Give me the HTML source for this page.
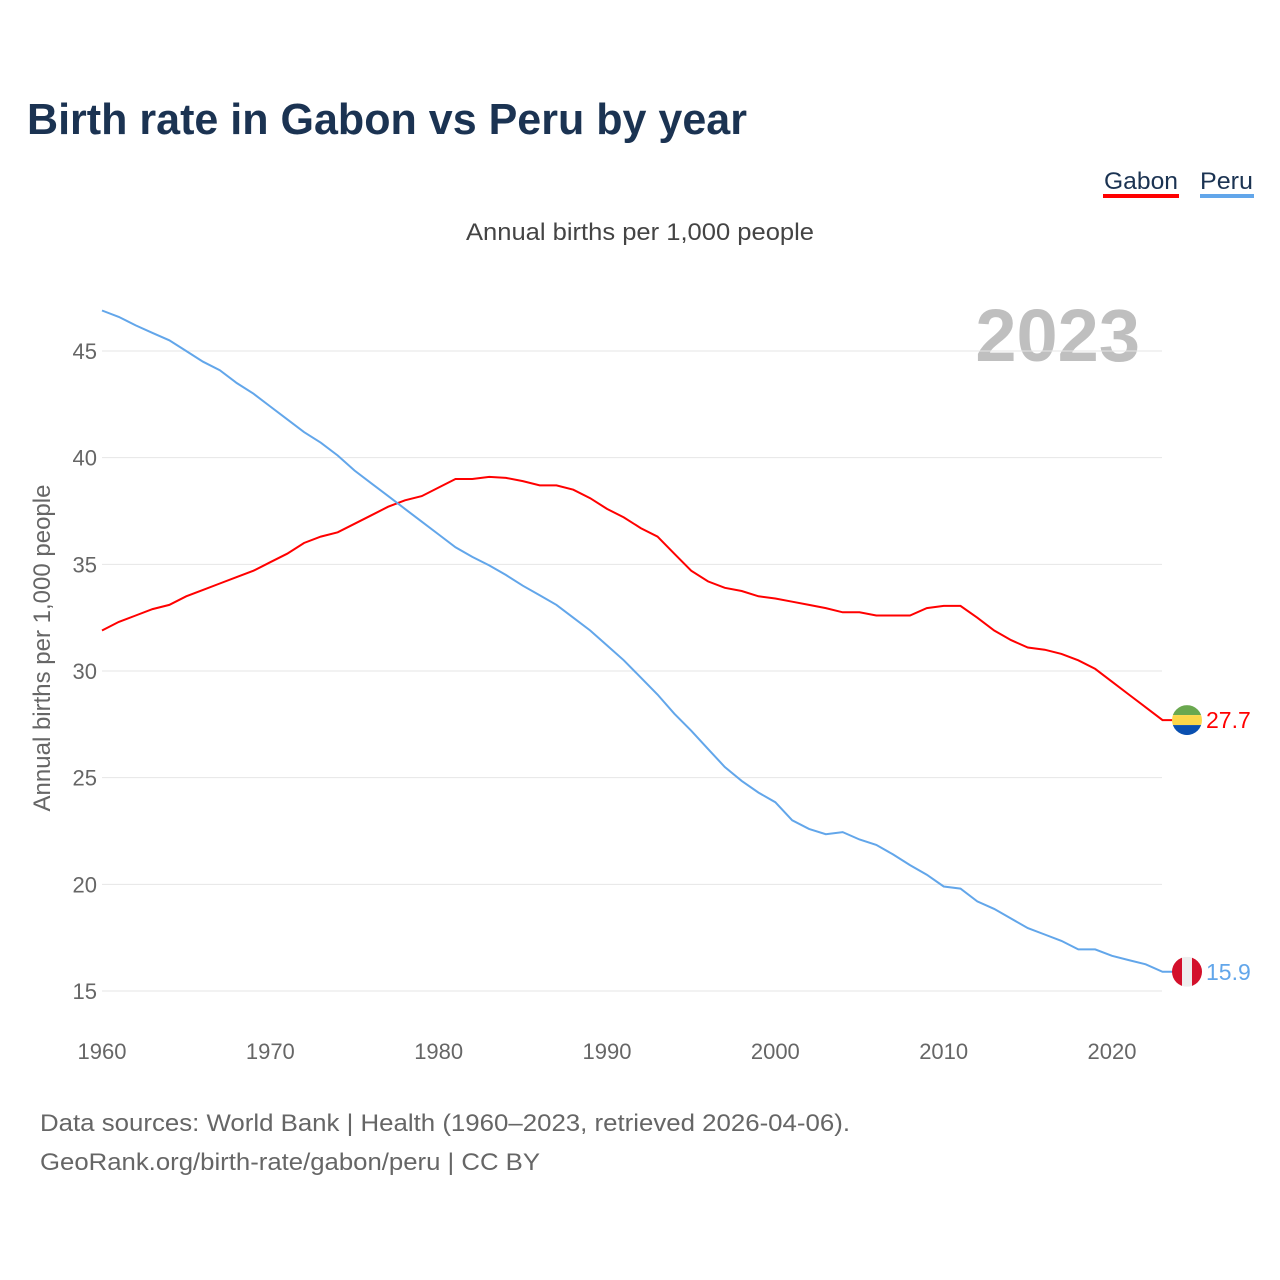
<!DOCTYPE html>
<html><head><meta charset="utf-8"><style>
body{margin:0;background:#fff;font-family:"Liberation Sans",sans-serif;}
#wrap{position:relative;width:1280px;height:1280px;overflow:hidden;}
</style></head><body>
<div id="wrap">
<svg id="chart" width="1280" height="1280">
<text x="27" y="134" font-size="44" font-weight="bold" fill="#1b3352" textLength="720" lengthAdjust="spacingAndGlyphs">Birth rate in Gabon vs Peru by year</text>
<g><text x="1104" y="189" font-size="24" fill="#1b3352" textLength="74" lengthAdjust="spacingAndGlyphs">Gabon</text><rect x="1103" y="194" width="76" height="4" fill="#ff0000"/></g>
<g><text x="1200" y="189" font-size="24" fill="#1b3352" textLength="53" lengthAdjust="spacingAndGlyphs">Peru</text><rect x="1200" y="194" width="54" height="4" fill="#62a6ea"/></g>
<text x="466" y="240" font-size="24" fill="#444" textLength="348" lengthAdjust="spacingAndGlyphs">Annual births per 1,000 people</text>
<text x="1140" y="361" font-size="74" font-weight="bold" fill="#bfbfbf" text-anchor="end">2023</text>
<text transform="translate(50,648) rotate(-90)" font-size="24" fill="#666" text-anchor="middle">Annual births per 1,000 people</text>
<g id="grid"></g><g id="yticks"></g><g id="xticks"></g><g id="series"></g>
<text x="40" y="1131" font-size="24" fill="#666" textLength="810" lengthAdjust="spacingAndGlyphs">Data sources: World Bank | Health (1960–2023, retrieved 2026-04-06).</text>
<text x="40" y="1170" font-size="24" fill="#666" textLength="500" lengthAdjust="spacingAndGlyphs">GeoRank.org/birth-rate/gabon/peru | CC BY</text>
</svg></div>
<script>
const years=[];for(let y=1960;y<=2023;y++)years.push(y);
const gabon=[31.9,32.3,32.6,32.9,33.1,33.5,33.8,34.1,34.4,34.7,35.1,35.5,36.0,36.3,36.5,36.9,37.3,37.7,38.0,38.2,38.6,39.0,39.0,39.1,39.05,38.9,38.7,38.7,38.5,38.1,37.6,37.2,36.7,36.3,35.5,34.7,34.2,33.9,33.75,33.5,33.4,33.25,33.1,32.95,32.75,32.75,32.6,32.6,32.6,32.95,33.05,33.05,32.5,31.9,31.45,31.1,31.0,30.8,30.5,30.1,29.5,28.9,28.3,27.7];
const peru=[46.9,46.6,46.2,45.85,45.5,45.0,44.5,44.1,43.5,43.0,42.4,41.8,41.2,40.7,40.1,39.4,38.8,38.2,37.6,37.0,36.4,35.8,35.35,34.95,34.5,34.0,33.55,33.1,32.5,31.9,31.2,30.5,29.7,28.9,28.0,27.2,26.35,25.5,24.85,24.3,23.85,23.0,22.6,22.35,22.45,22.1,21.85,21.4,20.9,20.45,19.9,19.8,19.2,18.85,18.4,17.95,17.65,17.35,16.95,16.95,16.65,16.45,16.25,15.9];
const yTicks=[15,20,25,30,35,40,45];
const xTicks=[1960,1970,1980,1990,2000,2010,2020];
const NS="http://www.w3.org/2000/svg";
const X=v=>102+(v-1960)*(1010/60);
const Y=v=>991-(v-15)*(640/30);
function mk(tag,attrs,parent){const e=document.createElementNS(NS,tag);for(const k in attrs)e.setAttribute(k,attrs[k]);document.getElementById(parent).appendChild(e);return e;}
yTicks.forEach(t=>{
 const l=mk('line',{x1:102,x2:1162,y1:Y(t),y2:Y(t),stroke:'#e6e6e6','stroke-width':1},'grid');
 
 
 const tx=mk('text',{x:97,y:Y(t)+8,'font-size':22,fill:'#666','text-anchor':'end'},'yticks');
 tx.textContent=t;
 
 
});
xTicks.forEach(t=>{
 const tx=mk('text',{x:X(t),y:1059,'font-size':22,fill:'#666','text-anchor':'middle'},'xticks');
 tx.textContent=t;
 
 
});
function series(vals,color,name,flag){
 let d=vals.map((v,i)=>(i?'L':'M')+X(years[i]).toFixed(1)+','+Y(v).toFixed(1)).join(' ');
 const last=vals[vals.length-1];
 d+=' L'+(X(2023)+10)+','+Y(last).toFixed(1);
 const p=mk('path',{d:d,fill:'none',stroke:color,'stroke-width':2},'series');
 
 
 const cx=1187,cy=Y(last);
 const g=mk('g',{},'series');
 
 
 const cp=mk('clipPath',{id:'c'+name},'series');
 const cc=document.createElementNS(NS,'circle');cc.setAttribute('cx',cx);cc.setAttribute('cy',cy);cc.setAttribute('r',15);cp.appendChild(cc);
 flag.forEach(f=>{const r=document.createElementNS(NS,'rect');for(const k in f)r.setAttribute(k,f[k]);r.setAttribute('x',cx-15+(f.dx||0));r.setAttribute('y',cy-15+(f.dy||0));r.setAttribute('clip-path','url(#c'+name+')');g.appendChild(r);});
 const t=mk('text',{x:1206,y:cy+8,'font-size':23,fill:color},'series');
 t.textContent=last.toFixed(1);
 
 
}
series(gabon,'#ff0000','gabon',[{width:30,height:10,fill:'#6aa84f'},{dy:10,width:30,height:10,fill:'#fcd74a'},{dy:20,width:30,height:10,fill:'#0a50b0'}]);
series(peru,'#62a6ea','peru',[{width:10,height:30,fill:'#d3102b'},{dx:10,width:10,height:30,fill:'#eee'},{dx:20,width:10,height:30,fill:'#d3102b'}]);
</script>
</body></html>
